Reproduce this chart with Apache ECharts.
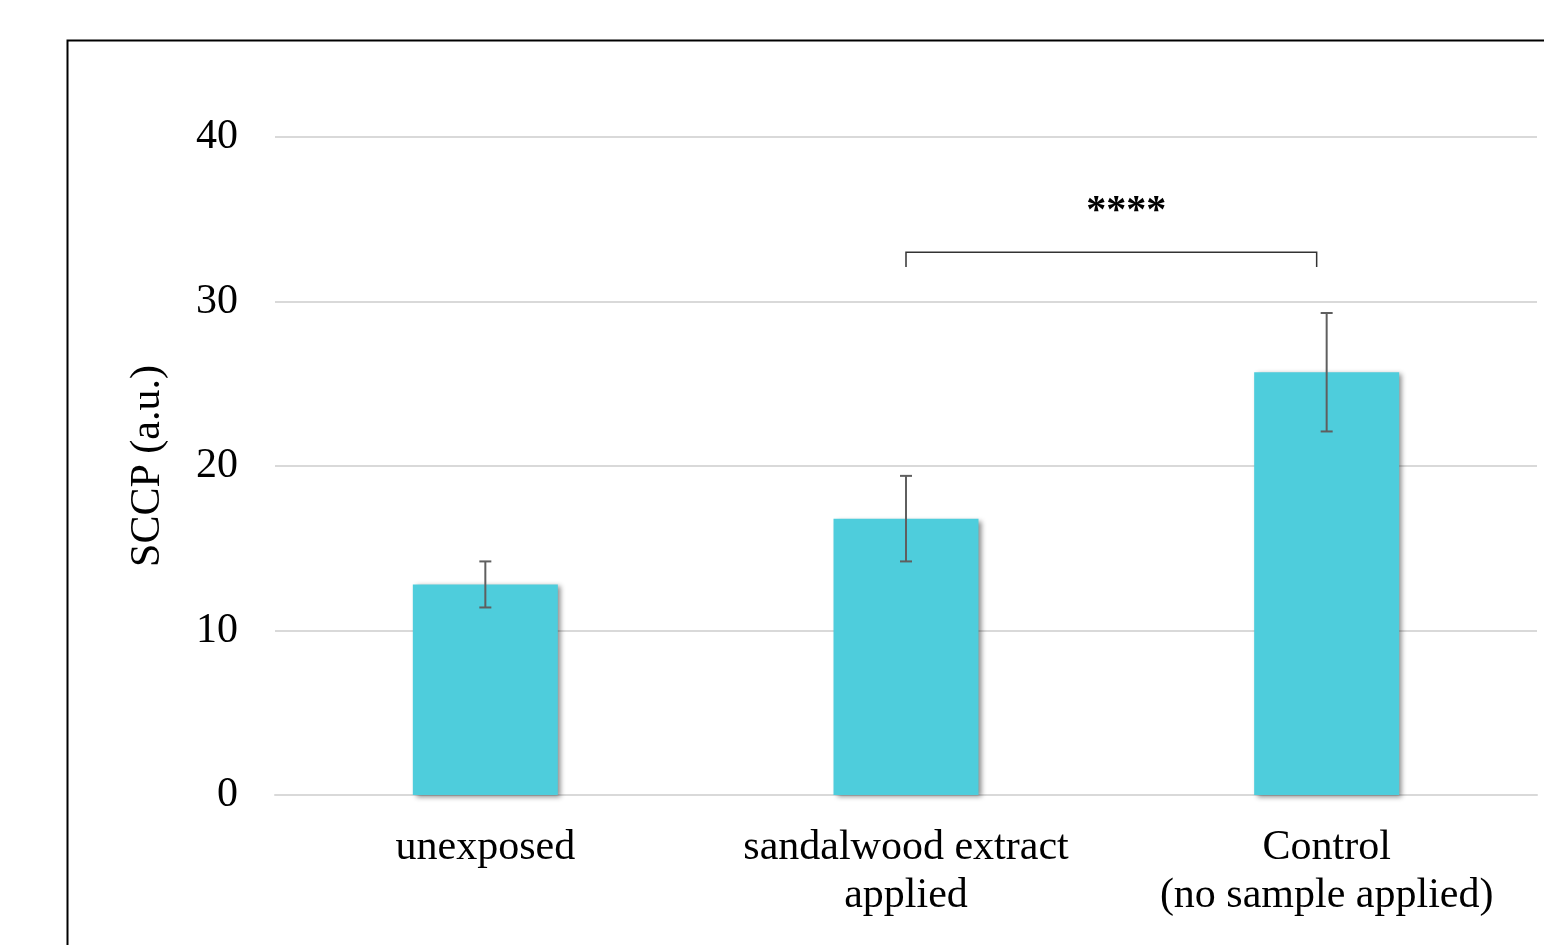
<!DOCTYPE html>
<html>
<head>
<meta charset="utf-8">
<script src="https://cdn.jsdelivr.net/npm/echarts@6/dist/echarts.min.js"></script>
<style>html,body{margin:0;padding:0;background:#fff;}#chart{width:1544px;height:945px;}</style>
</head>
<body>
<div id="chart"></div>
<script>
const categories = ['unexposed', 'sandalwood extract\napplied', 'Control\n(no sample applied)'];
const means = [12.8, 16.8, 25.7];
const errLow = [11.4, 14.2, 22.1];
const errHigh = [14.2, 19.4, 29.3];
const yTicks = [0, 10, 20, 30, 40];
const sigBracket = { from: 1, to: 2, y: 33, drop: 0.9, textY: 35.45, label: '****' };

const FONT = '"Liberation Serif", "DejaVu Serif", serif';
const chart = echarts.init(document.getElementById('chart'));

const option = {
  animation: false,
  backgroundColor: '#fff',
  graphic: [{
    type: 'rect', left: 65, top: 38, z: 100,
    shape: { width: 1600, height: 1000 },
    style: { fill: 'none', stroke: '#000', lineWidth: 2 }
  }],
  grid: { left: 275, right: 7, top: 137, bottom: 150 },
  xAxis: {
    type: 'category',
    data: categories,
    axisLine: { show: true, lineStyle: { color: '#d9d9d9', width: 2 } },
    axisTick: { show: false },
    axisLabel: { color: '#000', fontFamily: FONT, fontSize: 42, lineHeight: 48, margin: 29, interval: 0 }
  },
  yAxis: {
    type: 'value', min: yTicks[0], max: yTicks[yTicks.length - 1], interval: 10,
    name: 'SCCP (a.u.)', nameLocation: 'middle', nameGap: 106,
    nameTextStyle: { color: '#000', fontFamily: FONT, fontSize: 42 },
    axisLine: { show: false }, axisTick: { show: false },
    axisLabel: { color: '#000', fontFamily: FONT, fontSize: 42, margin: 37, padding: [6, 0, 0, 0] },
    splitLine: { lineStyle: { color: '#d9d9d9', width: 2 } }
  },
  series: [
    {
      type: 'bar', data: means, barWidth: 145,
      itemStyle: {
        color: '#4ecddc',
        shadowColor: 'rgba(0,0,0,0.45)', shadowBlur: 5, shadowOffsetX: 3, shadowOffsetY: 2
      }
    },
    {
      type: 'custom',
      data: categories.map((c, i) => [i, errLow[i], errHigh[i]]),
      renderItem: function (params, api) {
        const lo = api.coord([api.value(0), api.value(1)]);
        const hi = api.coord([api.value(0), api.value(2)]);
        const cap = 6;
        const st = { stroke: '#5f5f5f', lineWidth: 2 };
        return { type: 'group', children: [
          { type: 'line', shape: { x1: hi[0], y1: hi[1], x2: lo[0], y2: lo[1] }, style: st },
          { type: 'line', shape: { x1: hi[0] - cap, y1: hi[1], x2: hi[0] + cap, y2: hi[1] }, style: st },
          { type: 'line', shape: { x1: lo[0] - cap, y1: lo[1], x2: lo[0] + cap, y2: lo[1] }, style: st }
        ]};
      },
      z: 10
    },
    {
      type: 'custom',
      data: [[sigBracket.from, sigBracket.to, sigBracket.y, sigBracket.drop, sigBracket.textY]],
      renderItem: function (params, api) {
        const a = api.coord([api.value(0), api.value(2)]);
        const b = api.coord([api.value(1), api.value(2)]);
        const aD = api.coord([api.value(0), api.value(2) - api.value(3)]);
        const t = api.coord([api.value(0), api.value(4)]);
        const bx = b[0] - 10;
        const st = { stroke: '#333', lineWidth: 1.5, fill: 'none' };
        return { type: 'group', children: [
          { type: 'polyline', shape: { points: [[a[0], aD[1]], [a[0], a[1]], [bx, b[1]], [bx, aD[1]]] }, style: st },
          { type: 'text', x: (a[0] + b[0]) / 2 + 10, y: t[1], style: { text: sigBracket.label, fill: '#000', font: 'bold 40px ' + FONT, align: 'center', verticalAlign: 'middle' } }
        ]};
      },
      z: 10
    }
  ]
};
chart.setOption(option);
</script>
</body>
</html>
